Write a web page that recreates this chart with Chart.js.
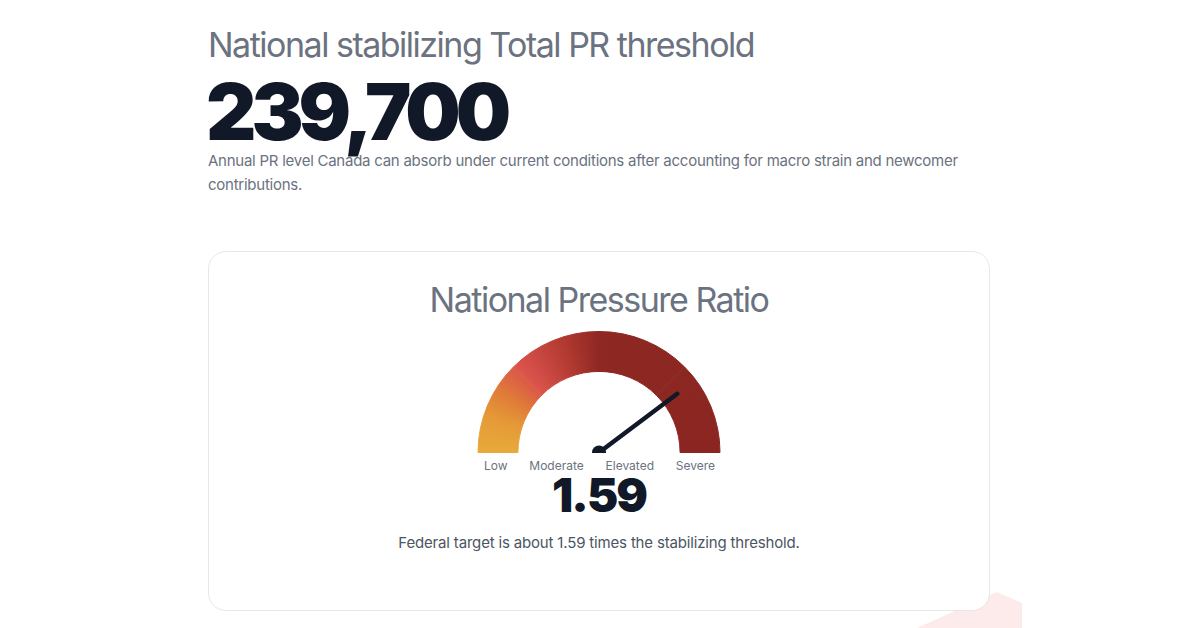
<!DOCTYPE html>
<html>
<head>
<meta charset="utf-8">
<script src="https://cdn.jsdelivr.net/npm/chart.js@4.4.1/dist/chart.umd.min.js"></script>
<style>
    html, body { margin: 0; padding: 0; background: #fff; }
    body { width: 1200px; height: 628px; position: relative; overflow: hidden; font-family: Inter, "Noto Sans", sans-serif; }
    .abs { position: absolute; white-space: nowrap; }
    .blob { position: absolute; left: 0; top: 0; width: 1200px; height: 628px; background: #fdeaea;
        clip-path: polygon(917px 628px, 997px 592px, 1022px 603px, 1022px 628px); }
    .title { left: 208px; top: 28px; font-size: 34px; line-height: 1; color: #6b7280; font-weight: 400; letter-spacing: -1.5px; }
    .big { left: 206px; top: 81px; font-size: 78px; line-height: 0.8; color: #111827; font-weight: 900; letter-spacing: -5px; }
    .sub { left: 208px; top: 149px; width: 782px; white-space: normal; font-size: 15px; line-height: 24px; color: #6b7280; letter-spacing: -0.25px; }
    .card { position: absolute; left: 208px; top: 251px; width: 780px; height: 358px; border: 1px solid #e5e7eb;
        border-radius: 18px; background: #fff; }
    .card-title { left: 208px; width: 782px; text-align: center; top: 283px; font-size: 34px; line-height: 1; color: #6b7280; letter-spacing: -1.5px; }
    .gauge { position: absolute; left: 477px; top: 331px; width: 244px; height: 122px; }
    .zones { position: absolute; left: 484px; width: 231px; top: 460px; display: flex; justify-content: space-between;
        font-size: 12px; line-height: 1; color: #6b7280; }
    .value { left: 208px; width: 782px; text-align: center; top: 476px; font-size: 47px; line-height: 0.8; color: #111827;
        font-weight: 900; letter-spacing: -2px; }
    .note { left: 208px; width: 782px; text-align: center; top: 535px; font-size: 15px; line-height: 1; color: #4b5563; letter-spacing: -0.17px; }
</style>
</head>
<body>
<div class="blob"></div>
<div class="abs title">National stabilizing Total PR threshold</div>
<div class="abs big">239,700</div>
<div class="abs sub">Annual PR level Canada can absorb under current conditions after accounting for macro strain and newcomer contributions.</div>
<div class="card"></div>
<div class="abs card-title">National Pressure Ratio</div>
<div class="gauge"><canvas id="gaugeChart"></canvas></div>
<div class="zones" id="zones"></div>
<div class="abs value" id="ratioValue"></div>
<div class="abs note" id="ratioNote"></div>

<script>
// gauge data
const zoneLabels = ['Low', 'Moderate', 'Elevated', 'Severe'];
const zoneWidths = [0.5, 0.5, 0.5, 0.5];
const pressureRatio = 1.59;

const gaugeMax = zoneWidths.reduce((a, b) => a + b, 0);

document.getElementById('zones').innerHTML = zoneLabels.map(z => `<span>${z}</span>`).join('');
document.getElementById('ratioValue').textContent = pressureRatio.toFixed(2);
document.getElementById('ratioNote').textContent =
    `Federal target is about ${pressureRatio.toFixed(2)} times the stabilizing threshold.`;

// conic fill around the arc centre (bottom middle of the chart area)
const arcFill = (context) => {
    const chart = context.chart;
    const area = chart.chartArea;
    if (!area) return '#8b2520';
    const cx = (area.left + area.right) / 2;
    const cy = area.bottom;
    const g = chart.ctx.createConicGradient(Math.PI, cx, cy);
    g.addColorStop(0, '#e8aa3a');
    g.addColorStop(0.05, '#e59a37');
    g.addColorStop(0.09, '#e07a38');
    g.addColorStop(0.135, '#d9514b');
    g.addColorStop(0.2, '#b23a31');
    g.addColorStop(0.25, '#8e2822');
    g.addColorStop(0.5, '#8b2521');
    g.addColorStop(1, '#8b2521');
    return g;
};

const needlePlugin = {
    id: 'needle',
    afterDatasetsDraw: (chart) => {
        const arc = chart.getDatasetMeta(0).data[0];
        if (!arc) return;
        const ctx = chart.ctx;
        const angle = Math.PI + (pressureRatio / gaugeMax) * Math.PI;
        const len = arc.innerRadius + (arc.outerRadius - arc.innerRadius) * 0.42;
        ctx.save();
        ctx.strokeStyle = '#111827';
        ctx.fillStyle = '#111827';
        ctx.lineWidth = 4.5;
        ctx.lineCap = 'round';
        ctx.beginPath();
        ctx.moveTo(arc.x, arc.y);
        ctx.lineTo(arc.x + Math.cos(angle) * len, arc.y + Math.sin(angle) * len);
        ctx.stroke();
        ctx.beginPath();
        ctx.arc(arc.x, arc.y, 7, 0, Math.PI * 2);
        ctx.fill();
        ctx.restore();
    }
};

new Chart(document.getElementById('gaugeChart').getContext('2d'), {
    type: 'doughnut',
    data: {
        labels: zoneLabels,
        datasets: [{
            data: zoneWidths,
            backgroundColor: arcFill,
            borderColor: arcFill,
            borderWidth: 1
        }]
    },
    options: {
        responsive: true,
        maintainAspectRatio: false,
        animation: false,
        rotation: -90,
        circumference: 180,
        cutout: '67%',
        layout: { padding: 0 },
        plugins: {
            legend: { display: false },
            tooltip: { enabled: false }
        }
    },
    plugins: [needlePlugin]
});
</script>
</body>
</html>
